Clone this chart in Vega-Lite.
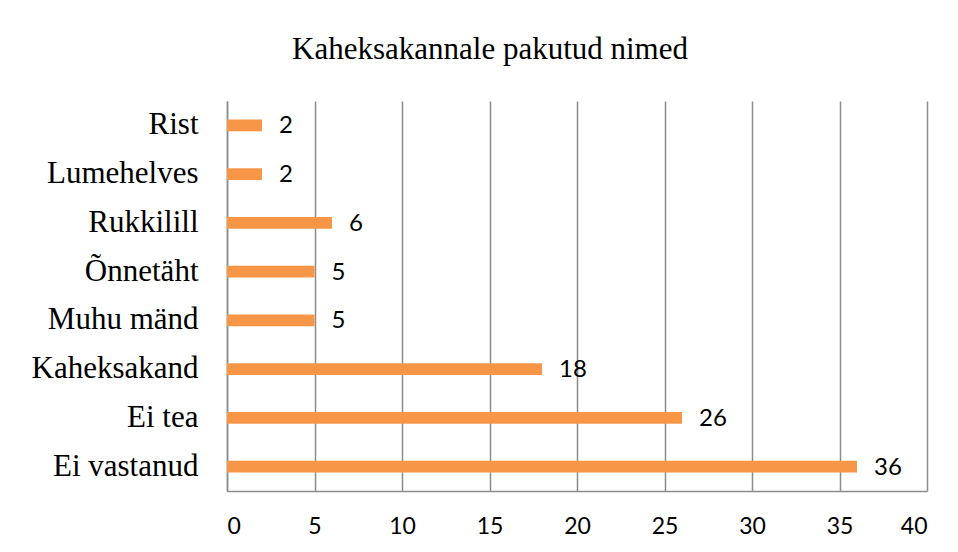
{
  "$schema": "https://vega.github.io/schema/vega-lite/v6.json",
  "width": 700,
  "height": 390,
  "autosize": {"type": "none"},
  "padding": {"left": 227, "top": 101, "right": 31, "bottom": 61},
  "background": "white",
  "title": {
    "text": "Kaheksakannale pakutud nimed",
    "font": "Liberation Serif",
    "fontSize": 31,
    "fontWeight": "normal",
    "color": "#000000",
    "anchor": "middle",
    "dx": -87,
    "offset": 35
  },
  "data": {
    "values": [
      {"nimi": "Rist", "arv": 2},
      {"nimi": "Lumehelves", "arv": 2},
      {"nimi": "Rukkilill", "arv": 6},
      {"nimi": "Õnnetäht", "arv": 5},
      {"nimi": "Muhu mänd", "arv": 5},
      {"nimi": "Kaheksakand", "arv": 18},
      {"nimi": "Ei tea", "arv": 26},
      {"nimi": "Ei vastanud", "arv": 36}
    ]
  },
  "encoding": {
    "y": {
      "field": "nimi",
      "type": "nominal",
      "sort": null,
      "scale": {"paddingInner": 0.76, "paddingOuter": 0.38},
      "axis": {
        "title": null,
        "ticks": false,
        "domainColor": "#8c8c8c",
        "domainWidth": 1.5,
        "labelFont": "Liberation Serif",
        "labelFontSize": 31,
        "labelColor": "#000000",
        "labelPadding": 29,
        "labelLimit": 300
      }
    },
    "x": {
      "field": "arv",
      "type": "quantitative",
      "scale": {"domain": [0, 40], "nice": false},
      "axis": {
        "title": null,
        "values": [0, 5, 10, 15, 20, 25, 30, 35, 40],
        "ticks": false,
        "grid": true,
        "gridColor": "#8c8c8c",
        "gridWidth": 1.5,
        "domainColor": "#8c8c8c",
        "domainWidth": 1.5,
        "labelFont": "Lato",
        "labelFontSize": 23,
        "labelColor": "#000000",
        "labelPadding": 24
      }
    }
  },
  "layer": [
    {"mark": {"type": "bar", "color": "#F79646"}},
    {
      "mark": {"type": "text", "align": "left", "dx": 17, "dy": 1, "font": "Lato", "fontSize": 24, "color": "#000000"},
      "encoding": {"text": {"field": "arv", "type": "quantitative"}}
    }
  ],
  "config": {"view": {"stroke": null}}
}
